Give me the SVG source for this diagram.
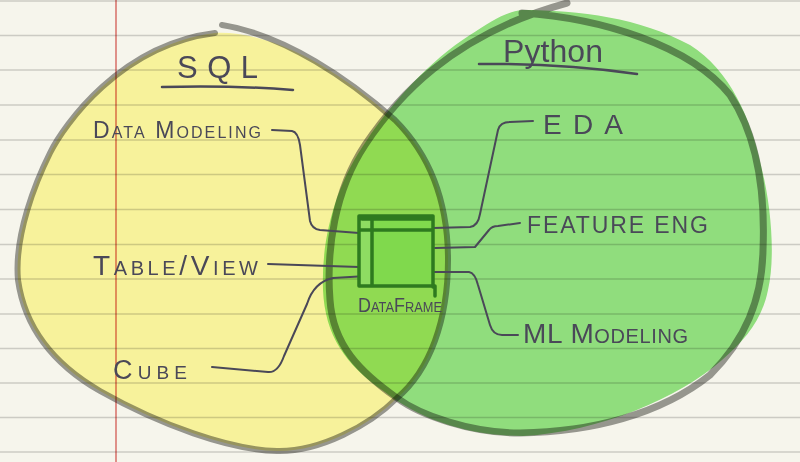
<svg xmlns="http://www.w3.org/2000/svg" width="800" height="462" viewBox="0 0 800 462">
<style>
.lbl{font-family:"Liberation Sans",Arial,sans-serif;fill:#4a4858;}
.sc{font-variant:small-caps;}
.conn{fill:none;stroke:#4a4858;stroke-width:2;stroke-linecap:round;stroke-linejoin:round;}
.ul{fill:none;stroke:#4a4858;stroke-width:2.5;stroke-linecap:round;}
.mul{mix-blend-mode:multiply;}
.rule{stroke:#d4d4d4;stroke-width:1.6;mix-blend-mode:multiply;}
.outline{fill:none;stroke:#9c9c9a;stroke-linecap:round;stroke-linejoin:round;mix-blend-mode:multiply;}
.box{fill:none;stroke:#2e7a1f;stroke-width:3.5;stroke-linecap:round;stroke-linejoin:round;}
</style>
<rect id="paper" x="0" y="0" width="800" height="462" fill="#f6f5ec"/>
<g id="sql-set">
<path d="M215,33 C280,30 350,80 395,120 C430,155 448,200 448,260 C448,320 430,370 397,398 C370,425 320,452 277,451 C230,450 160,425 100,391 C55,365 25,330 18,280 C14,235 36,181 50,153 C64,125 120,45 215,33 Z" fill="#f7f29b"/>
</g>
<g id="python-set">
<path class="mul" d="M522,10 C580,10 640,18 690,45 C730,70 752,120 762,170 C772,210 775,260 768,290 C762,320 745,340 722,360 C680,397 600,432 523,436 C470,436 420,420 385,392 C345,365 325,335 323,290 C321,240 335,185 367,140 C390,105 430,60 470,35 C490,22 505,12 522,10 Z" fill="#95e687"/>
</g>
<g id="ruling">
<line class="rule" x1="0" y1="1" x2="800" y2="1"/>
<line class="rule" x1="0" y1="35.5" x2="800" y2="35.5"/>
<line class="rule" x1="0" y1="70" x2="800" y2="70"/>
<line class="rule" x1="0" y1="105" x2="800" y2="105"/>
<line class="rule" x1="0" y1="140" x2="800" y2="140"/>
<line class="rule" x1="0" y1="174.5" x2="800" y2="174.5"/>
<line class="rule" x1="0" y1="209.5" x2="800" y2="209.5"/>
<line class="rule" x1="0" y1="244.5" x2="800" y2="244.5"/>
<line class="rule" x1="0" y1="279" x2="800" y2="279"/>
<line class="rule" x1="0" y1="314" x2="800" y2="314"/>
<line class="rule" x1="0" y1="348.5" x2="800" y2="348.5"/>
<line class="rule" x1="0" y1="383" x2="800" y2="383"/>
<line class="rule" x1="0" y1="417.5" x2="800" y2="417.5"/>
<line class="rule" x1="0" y1="452" x2="800" y2="452"/>
<line x1="116" y1="0" x2="116" y2="462" stroke="#d8504c" stroke-width="1.2" class="mul"/>
</g>
<g id="set-outlines">
<path class="outline" stroke-width="6" d="M222,25 C285,35 350,80 395,120 C430,155 448,200 448,260 C448,320 430,370 397,398 C370,425 320,452 277,451 C230,450 160,425 100,391 C55,365 25,330 18,280 C14,235 36,181 50,153 C64,125 120,45 215,33"/>
<path class="outline" stroke-width="7" d="M522,13 C600,18 690,45 730,95 C760,140 765,200 763,250 C762,300 745,340 710,375 C660,415 590,432 520,433 C470,433 420,415 397,398 C360,372 333,345 330,300 C326,250 335,190 365,145 C395,100 450,35 567,3"/>
</g>
<g id="connectors">
<path class="conn" d="M272,130 L292,131 Q298,132 300,145 L310,221 Q312,229 320,230 L359,233"/>
<path class="conn" d="M268,264 L359,267"/>
<path class="conn" d="M212,367 L268,372 Q278,373 284,356 L307,304 Q314,282 333,278 L367,276 L371,279"/>
<path class="conn" d="M433,228 L470,227 Q478,226 480,214 L498,130 Q500,122 510,122 L533,121"/>
<path class="conn" d="M435,248 L475,247 L489,230 Q492,226 498,226 L520,223"/>
<path class="conn" d="M433,272 L469,272 Q475,273 478,285 L490,325 Q493,335 502,335 L518,335"/>
</g>
<g id="sql-title">
<text class="lbl" x="177" y="78" font-size="31" textLength="81" lengthAdjust="spacing">SQL</text>
<path class="ul" d="M162,87 Q230,85 293,90"/>
</g>
<g id="python-title">
<text class="lbl" x="503" y="62" font-size="32" textLength="100" lengthAdjust="spacing">Python</text>
<path class="ul" d="M479,64 Q560,63 637,74"/>
</g>
<g id="data-modeling">
<text class="lbl sc" x="93" y="138" font-size="23" textLength="168" lengthAdjust="spacing">Data Modeling</text>
</g>
<g id="table-view">
<text class="lbl sc" x="93" y="275" font-size="28" textLength="165" lengthAdjust="spacing">Table/View</text>
</g>
<g id="cube">
<text class="lbl sc" x="113" y="379" font-size="27" textLength="74" lengthAdjust="spacing">Cube</text>
</g>
<g id="dataframe">
<rect x="359" y="216" width="74" height="70" fill="#80d94d"/>
<rect x="359" y="216" width="13" height="70" fill="#8edc62"/>
<path class="box" d="M359,216 L433,216 L433,287 M359,216 L359,286 L433,286 M372,216 L372,286 M359,230 L433,230 M435,286 L435,296 M362,219 L431,219"/>
<text class="lbl sc" x="358" y="312" font-size="21" textLength="84" lengthAdjust="spacingAndGlyphs">DataFrame</text>
</g>
<g id="eda">
<text class="lbl" x="543" y="134" font-size="28" textLength="80" lengthAdjust="spacing">EDA</text>
</g>
<g id="feature-eng">
<text class="lbl" x="527" y="233" font-size="23" textLength="181" lengthAdjust="spacing">FEATURE ENG</text>
</g>
<g id="ml-modeling">
<text class="lbl sc" x="523" y="343" font-size="28" textLength="165" lengthAdjust="spacing">ML Modeling</text>
</g>
</svg>
